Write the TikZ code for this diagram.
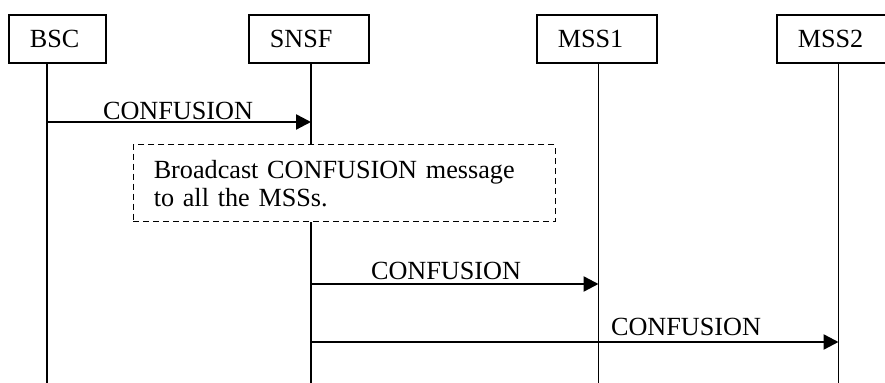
\documentclass[tikz,border=0pt]{standalone}
\usepackage{fontspec}
\setmainfont{Liberation Serif}
\usetikzlibrary{arrows.meta,positioning}

\tikzset{
  entity/.style={draw,line width=0.8pt,anchor=north west,minimum height=24pt,
    inner xsep=10.5pt,text width=#1,align=left},
  note/.style={draw,dashed,dash pattern=on 3pt off 2pt,line width=0.75pt,
    anchor=north west,minimum height=38.5pt,inner xsep=10.25pt,text width=190.5pt,
    align=left,font=\fontsize{13.1}{14}\selectfont},
  life/.style={line width=0.8pt},
  msg/.style={->,line width=1.2pt},
  lbl/.style={anchor=base,inner sep=0pt}
}

\begin{document}
\begin{tikzpicture}[x=0.5pt,y=-0.5pt,>={Triangle[length=7.5pt,width=7.5pt]},
  font=\fontsize{13.1}{14}\selectfont]
  \useasboundingbox (0,0) rectangle (885,383);
  % entita
  \node[entity=27.5pt] (bsc) at (8,14) {BSC};
  \node[entity=39pt] (snsf) at (248,14) {SNSF};
  \node[entity=39pt] (mss1) at (536,14) {MSS1};
  \node[entity=39pt] (mss2) at (776,14) {MSS2};
  \coordinate (bsc-end) at (47,383);
  \coordinate (snsf-end) at (311,383);
  \coordinate (mss1-end) at (598.5,383);
  \coordinate (mss2-end) at (838.5,383);
  % nota
  \node[note] (bcast) at (132.5,144) {Broadcast CONFUSION message\\to all the MSSs.};
  % linee di vita
  \draw[life] (bsc.south -| bsc-end) -- (bsc-end);
  \draw[life] (snsf.south -| snsf-end) -- (bcast.north -| snsf-end);
  \draw[life] (bcast.south -| snsf-end) -- (snsf-end);
  \draw[life] (mss1.south -| mss1-end) -- (mss1-end);
  \draw[life] (mss2.south -| mss2-end) -- (mss2-end);
  % messaggi
  \coordinate (m1) at (0,122);
  \coordinate (m2) at (0,284);
  \coordinate (m3) at (0,342);
  \draw[msg] (bsc-end |- m1) -- (snsf-end |- m1);
  \draw[msg] (snsf-end |- m2) -- (mss1-end |- m2);
  \draw[msg] (snsf-end |- m3) -- (mss2-end |- m3);
  \node[lbl] (l1) at (178,119.5) {CONFUSION};
  \node[lbl] (l2) at (446,280) {CONFUSION};
  \node[lbl] (l3) at (686,336) {CONFUSION};
\end{tikzpicture}
\end{document}
